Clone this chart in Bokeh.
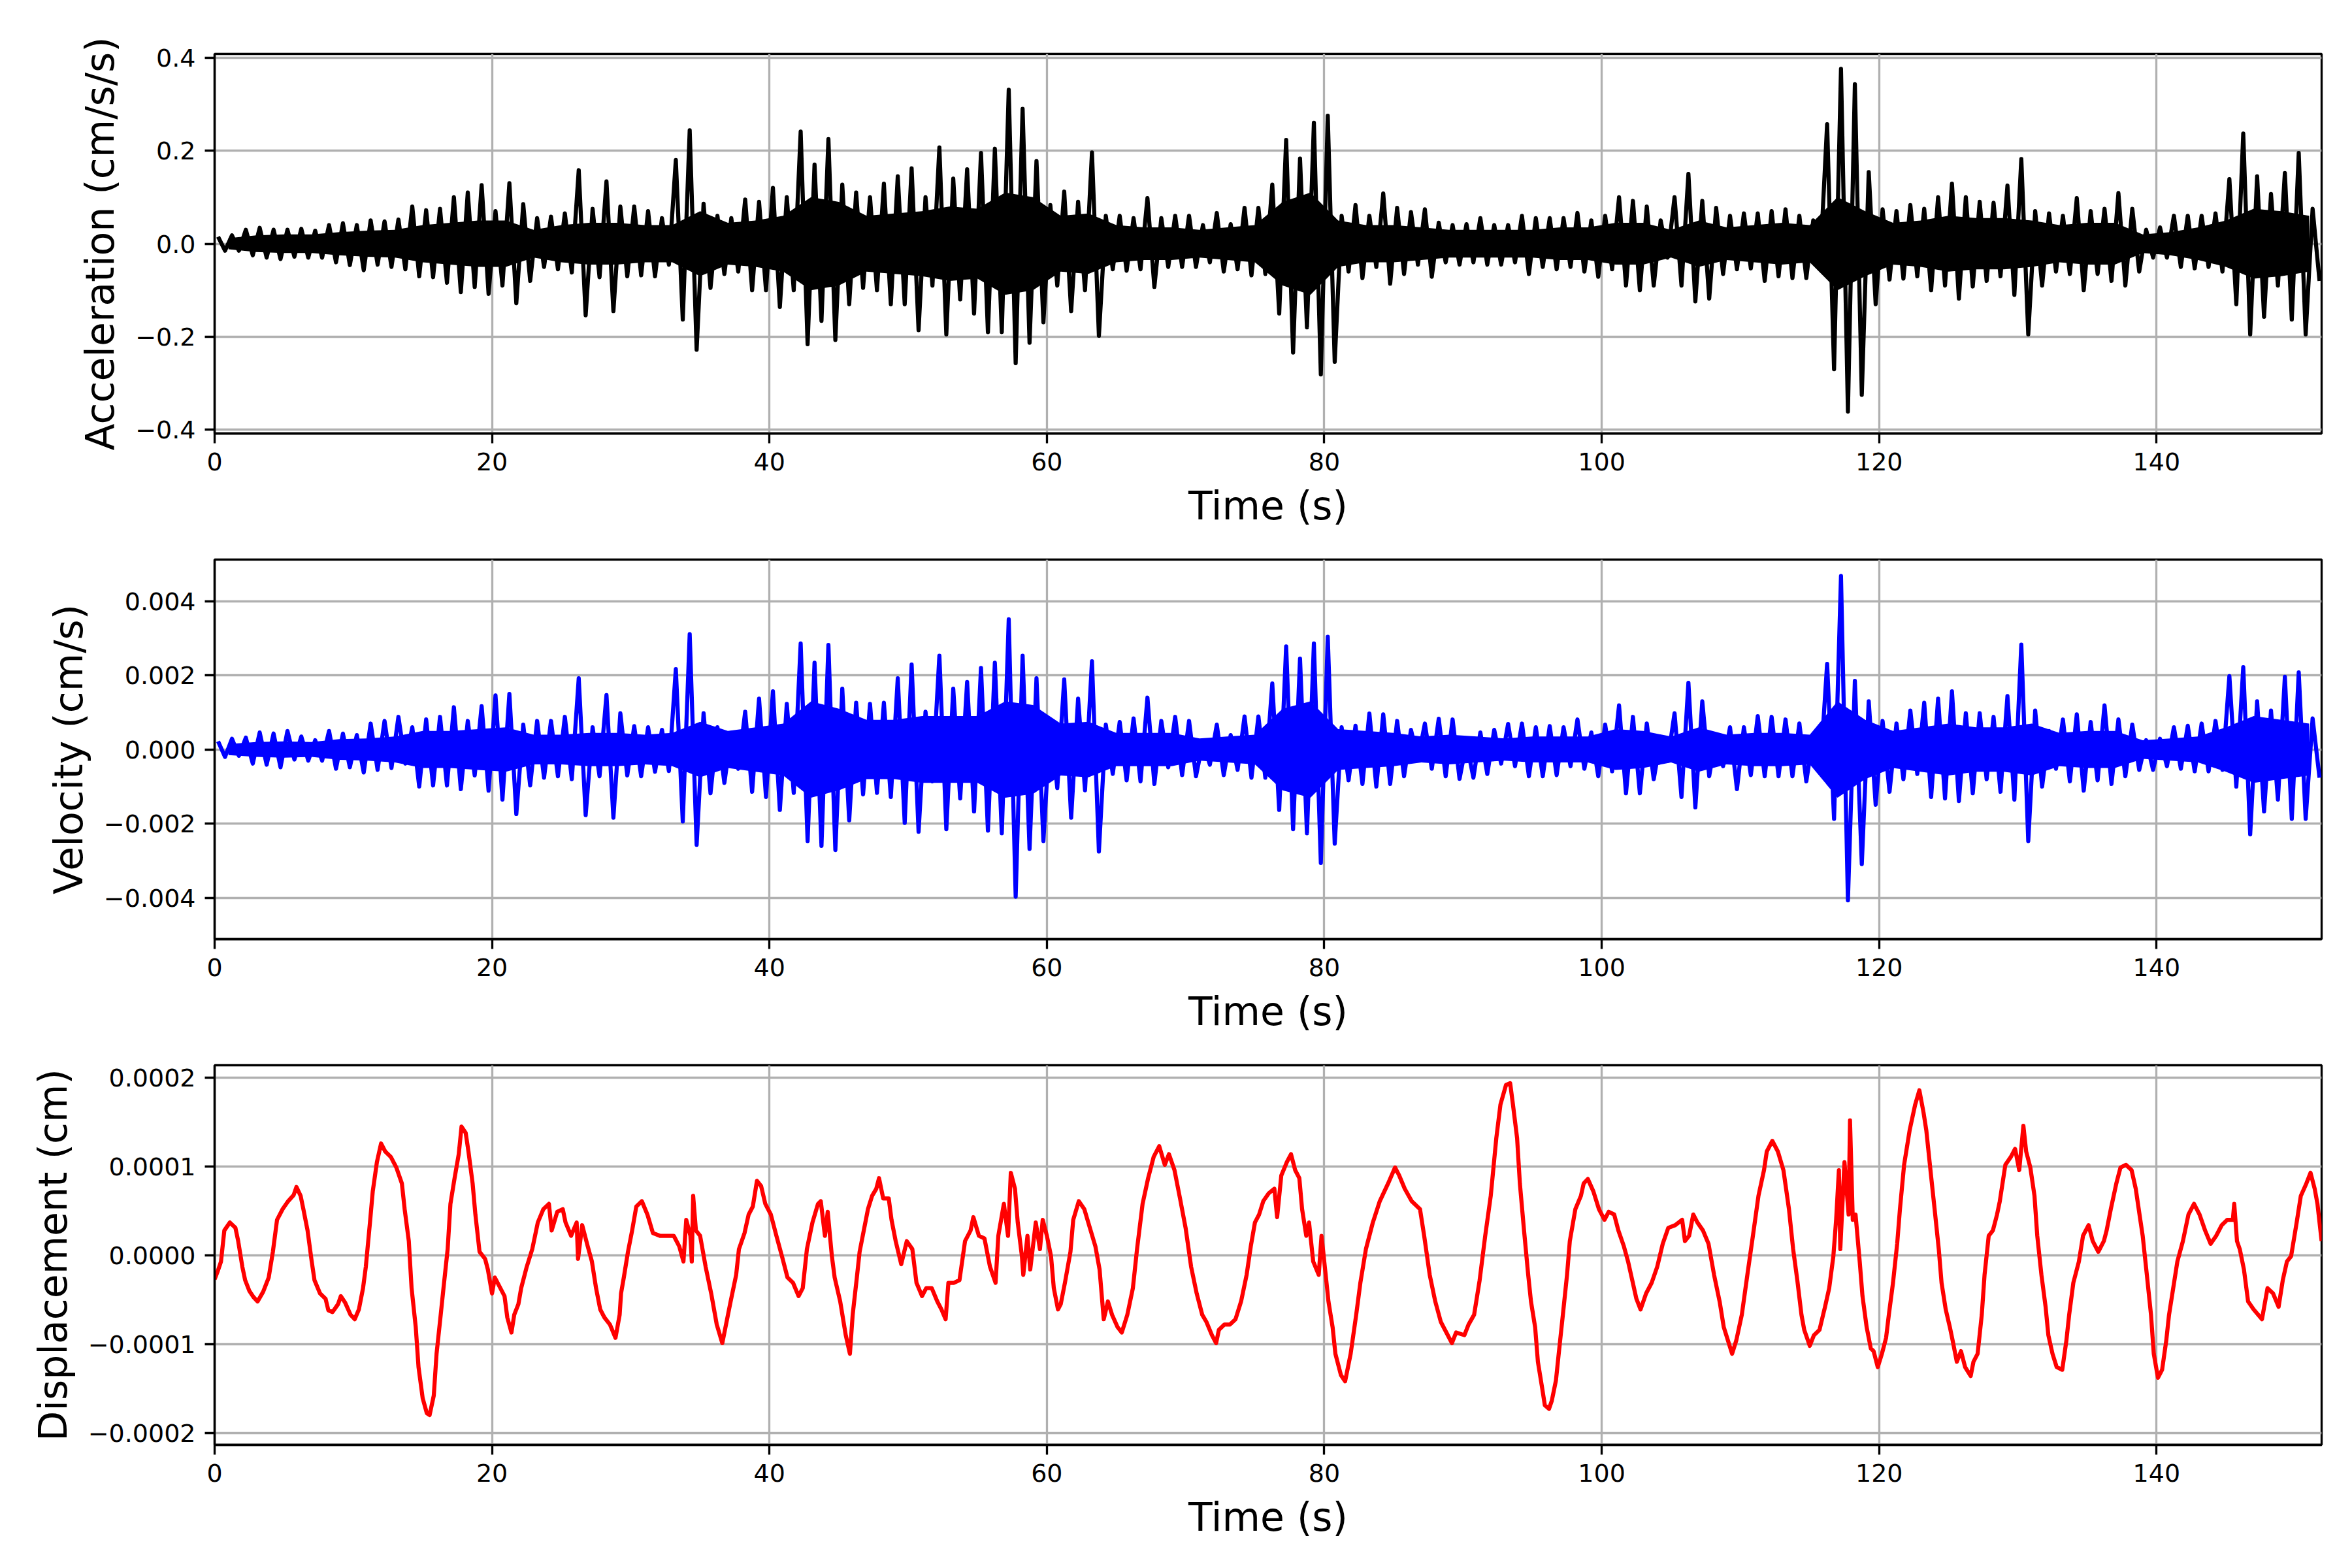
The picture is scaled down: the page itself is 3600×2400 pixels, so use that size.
import numpy as np
from bokeh.plotting import figure
from bokeh.layouts import column
from bokeh.models import Range1d
from bokeh.embed import file_html
from bokeh.resources import INLINE

# ---------------- data ----------------
duration = 151.9
x_ticks = [0, 20, 40, 60, 80, 100, 120, 140]

acc_ticks = [-0.4, -0.2, 0.0, 0.2, 0.4]
acc_tick_labels = ["\u22120.4", "\u22120.2", "0.0", "0.2", "0.4"]
vel_ticks = [-0.004, -0.002, 0.0, 0.002, 0.004]
vel_tick_labels = ["\u22120.004", "\u22120.002", "0.000", "0.002", "0.004"]
disp_ticks = [-0.0002, -0.0001, 0.0, 0.0001, 0.0002]
disp_tick_labels = ["\u22120.0002", "\u22120.0001", "0.0000", "0.0001", "0.0002"]

# acceleration (cm/s/s): per-second peak maxima / minima, second 0 .. 151
acc_hi = [0.015, 0.018, 0.030, 0.034, 0.030, 0.030, 0.032, 0.028, 0.040, 0.044,
          0.040, 0.050, 0.048, 0.052, 0.080, 0.072, 0.075, 0.100, 0.110, 0.126,
          0.070, 0.130, 0.085, 0.055, 0.058, 0.065, 0.158, 0.075, 0.134, 0.080,
          0.080, 0.070, 0.055, 0.180, 0.244, 0.086, 0.060, 0.055, 0.095, 0.090,
          0.120, 0.100, 0.241, 0.170, 0.225, 0.127, 0.110, 0.100, 0.129, 0.145,
          0.162, 0.100, 0.207, 0.140, 0.160, 0.195, 0.204, 0.331, 0.290, 0.178,
          0.083, 0.112, 0.090, 0.196, 0.060, 0.060, 0.055, 0.098, 0.055, 0.060,
          0.060, 0.040, 0.066, 0.042, 0.077, 0.077, 0.127, 0.223, 0.183, 0.260,
          0.275, 0.060, 0.083, 0.060, 0.108, 0.077, 0.068, 0.074, 0.045, 0.040,
          0.042, 0.055, 0.040, 0.040, 0.060, 0.055, 0.055, 0.055, 0.066, 0.050,
          0.060, 0.100, 0.092, 0.080, 0.050, 0.100, 0.150, 0.092, 0.077, 0.060,
          0.065, 0.065, 0.070, 0.074, 0.060, 0.050, 0.257, 0.376, 0.343, 0.154,
          0.074, 0.070, 0.083, 0.075, 0.100, 0.129, 0.100, 0.090, 0.088, 0.125,
          0.182, 0.070, 0.065, 0.060, 0.098, 0.070, 0.075, 0.109, 0.075, 0.030,
          0.035, 0.060, 0.060, 0.060, 0.065, 0.139, 0.237, 0.145, 0.107, 0.152,
          0.195, 0.075]
acc_lo = [-0.015, -0.015, -0.025, -0.030, -0.033, -0.028, -0.030, -0.030, -0.040, -0.046,
          -0.057, -0.045, -0.050, -0.055, -0.070, -0.072, -0.084, -0.104, -0.093, -0.108,
          -0.090, -0.128, -0.080, -0.050, -0.055, -0.062, -0.154, -0.072, -0.145, -0.070,
          -0.068, -0.070, -0.045, -0.163, -0.228, -0.095, -0.065, -0.060, -0.100, -0.100,
          -0.136, -0.100, -0.216, -0.166, -0.207, -0.130, -0.095, -0.100, -0.130, -0.130,
          -0.186, -0.090, -0.195, -0.120, -0.150, -0.190, -0.190, -0.257, -0.213, -0.169,
          -0.090, -0.145, -0.100, -0.198, -0.055, -0.058, -0.055, -0.093, -0.050, -0.050,
          -0.050, -0.040, -0.060, -0.055, -0.068, -0.065, -0.150, -0.234, -0.180, -0.281,
          -0.254, -0.060, -0.074, -0.050, -0.086, -0.065, -0.045, -0.071, -0.040, -0.045,
          -0.040, -0.045, -0.045, -0.040, -0.065, -0.050, -0.055, -0.050, -0.060, -0.071,
          -0.055, -0.090, -0.100, -0.090, -0.030, -0.090, -0.124, -0.118, -0.065, -0.055,
          -0.053, -0.080, -0.070, -0.074, -0.074, -0.040, -0.270, -0.361, -0.325, -0.130,
          -0.077, -0.075, -0.070, -0.100, -0.090, -0.118, -0.092, -0.080, -0.070, -0.110,
          -0.195, -0.090, -0.060, -0.065, -0.100, -0.065, -0.080, -0.090, -0.060, -0.030,
          -0.030, -0.050, -0.053, -0.050, -0.060, -0.130, -0.195, -0.157, -0.090, -0.163,
          -0.195, -0.080]
# amplitude of the dense core of the trace, every 2 s (centres 1, 3, ..., 151)
acc_core = [0.012, 0.018, 0.020, 0.020, 0.025, 0.028, 0.030, 0.040, 0.045, 0.050,
            0.050, 0.030, 0.040, 0.045, 0.045, 0.040, 0.040, 0.070, 0.045, 0.050,
            0.060, 0.100, 0.090, 0.060, 0.065, 0.070, 0.080, 0.075, 0.110, 0.100,
            0.060, 0.065, 0.040, 0.035, 0.035, 0.030, 0.035, 0.040, 0.090, 0.110,
            0.050, 0.040, 0.040, 0.035, 0.030, 0.030, 0.030, 0.030, 0.035, 0.035,
            0.045, 0.045, 0.030, 0.050, 0.035, 0.040, 0.045, 0.040, 0.100, 0.070,
            0.045, 0.050, 0.060, 0.055, 0.055, 0.050, 0.040, 0.045, 0.045, 0.020,
            0.025, 0.035, 0.050, 0.075, 0.070, 0.060]

# velocity (units of 1e-3 cm/s): per-second maxima / minima
vel_hi = [0.22, 0.29, 0.32, 0.46, 0.43, 0.50, 0.35, 0.25, 0.50, 0.43,
          0.39, 0.70, 0.77, 0.88, 0.60, 0.81, 0.88, 1.14, 0.77, 1.17,
          1.46, 1.50, 0.67, 0.77, 0.77, 0.88, 1.92, 0.60, 1.47, 0.98,
          0.63, 0.60, 0.53, 2.17, 3.11, 0.98, 0.60, 0.45, 1.02, 1.37,
          1.57, 1.23, 2.86, 2.34, 2.82, 1.64, 1.26, 1.23, 1.26, 1.92,
          2.29, 1.02, 2.53, 1.64, 1.82, 2.20, 2.34, 3.51, 2.53, 1.92,
          0.77, 1.89, 1.37, 2.38, 0.67, 0.74, 0.84, 1.40, 0.77, 0.88,
          0.77, 0.22, 0.67, 0.39, 0.89, 0.89, 1.78, 2.78, 2.45, 2.86,
          3.04, 0.60, 0.64, 0.97, 0.95, 0.77, 0.53, 0.70, 0.83, 0.81,
          0.18, 0.46, 0.53, 0.69, 0.70, 0.60, 0.63, 0.60, 0.81, 0.46,
          0.67, 1.19, 0.88, 0.70, 0.29, 0.98, 1.80, 1.30, 0.39, 0.60,
          0.60, 0.90, 0.88, 0.81, 0.70, 0.39, 2.31, 4.68, 1.85, 1.30,
          0.77, 0.70, 1.05, 1.26, 1.37, 1.57, 0.98, 0.98, 0.88, 1.44,
          2.83, 1.05, 0.50, 0.81, 0.95, 0.74, 1.19, 0.81, 0.67, 0.25,
          0.29, 0.60, 0.64, 0.70, 0.77, 1.98, 2.22, 1.30, 1.05, 1.96,
          2.08, 0.84]
vel_lo = [-0.20, -0.17, -0.38, -0.41, -0.48, -0.27, -0.30, -0.30, -0.52, -0.48,
          -0.62, -0.55, -0.50, -0.38, -1.00, -0.97, -0.97, -1.07, -0.70, -1.11,
          -1.35, -1.74, -0.97, -0.76, -0.72, -0.80, -1.77, -0.72, -1.84, -0.70,
          -0.72, -0.60, -0.58, -1.94, -2.57, -1.18, -0.90, -0.52, -1.14, -1.28,
          -1.63, -1.17, -2.47, -2.60, -2.71, -1.91, -1.21, -1.17, -1.28, -1.98,
          -2.22, -0.86, -2.15, -1.32, -1.67, -2.19, -2.26, -3.97, -2.68, -2.47,
          -1.04, -1.84, -1.10, -2.75, -0.66, -0.83, -0.86, -0.93, -0.48, -0.69,
          -0.72, -0.41, -0.69, -0.55, -0.76, -0.76, -1.63, -2.15, -2.26, -3.06,
          -2.54, -0.83, -0.93, -1.00, -0.93, -0.72, -0.27, -0.52, -0.72, -0.79,
          -0.76, -0.66, -0.38, -0.45, -0.72, -0.72, -0.69, -0.45, -0.52, -0.72,
          -0.59, -1.18, -1.18, -0.80, -0.31, -1.28, -1.56, -0.72, -0.45, -1.07,
          -0.69, -0.72, -0.72, -0.72, -0.86, -0.59, -1.87, -4.07, -3.09, -1.49,
          -1.14, -0.80, -0.66, -1.28, -1.32, -1.39, -1.18, -0.80, -1.14, -1.35,
          -2.47, -1.00, -0.52, -0.86, -1.11, -0.83, -0.93, -0.72, -0.55, -0.55,
          -0.45, -0.52, -0.59, -0.59, -0.55, -1.00, -2.29, -1.67, -1.35, -1.87,
          -1.87, -0.76]
vel_core = [0.15, 0.20, 0.22, 0.20, 0.28, 0.30, 0.35, 0.50, 0.50, 0.55,
            0.60, 0.40, 0.40, 0.45, 0.45, 0.40, 0.45, 0.75, 0.50, 0.60,
            0.70, 1.30, 1.10, 0.80, 0.80, 0.90, 0.90, 0.90, 1.30, 1.20,
            0.70, 0.75, 0.45, 0.45, 0.45, 0.30, 0.35, 0.40, 1.10, 1.30,
            0.55, 0.50, 0.45, 0.35, 0.40, 0.35, 0.30, 0.35, 0.35, 0.35,
            0.55, 0.50, 0.35, 0.60, 0.40, 0.45, 0.45, 0.40, 1.30, 0.80,
            0.50, 0.60, 0.70, 0.60, 0.60, 0.70, 0.45, 0.50, 0.50, 0.25,
            0.30, 0.35, 0.60, 0.90, 0.80, 0.70]

# displacement (units of 1e-4 cm)
disp_t = [0, 0.2, 0.46, 0.7, 1.1, 1.5, 1.7, 2.0, 2.2, 2.5, 2.8, 3.1, 3.5, 3.9, 4.2, 4.5, 4.9,
          5.3, 5.7, 5.9, 6.2, 6.4, 6.7, 7.0, 7.2, 7.6, 8.0, 8.2, 8.5, 8.9, 9.1, 9.4, 9.8,
          10.1, 10.4, 10.7, 10.9, 11.2, 11.4, 11.7, 12.0, 12.3, 12.7, 13.1, 13.5, 13.7,
          14.0, 14.2, 14.5, 14.7, 15.0, 15.3, 15.5, 15.8, 16.0, 16.3, 16.5, 16.8, 17.0,
          17.3, 17.6, 17.8, 18.1, 18.3, 18.6, 18.8, 19.1, 19.5, 19.7, 20.0, 20.2, 20.6,
          20.9, 21.1, 21.4, 21.6, 21.9, 22.1, 22.5, 22.9, 23.3, 23.7, 24.1, 24.3, 24.7,
          25.1, 25.3, 25.7, 26.1, 26.2, 26.5, 26.9, 27.2, 27.5, 27.8, 28.1, 28.5, 28.9,
          29.2, 29.3, 29.5, 29.8, 30.1, 30.4, 30.8, 31.2, 31.6, 32.1, 32.6, 33.1, 33.5,
          33.8, 34.0, 34.3, 34.4, 34.5, 34.7, 35.0, 35.4, 35.8, 36.2, 36.6, 37.2, 37.6,
          37.8, 38.2, 38.5, 38.8, 39.1, 39.4, 39.7, 40.1, 40.5, 40.9, 41.3, 41.7, 42.1,
          42.4, 42.7, 43.1, 43.5, 43.7, 44.0, 44.2, 44.5, 44.7, 45.1, 45.5, 45.8, 46.0,
          46.3, 46.5, 46.8, 47.1, 47.4, 47.7, 47.9, 48.2, 48.6, 48.8, 49.1, 49.5, 49.9,
          50.3, 50.6, 51.0, 51.3, 51.7, 52.1, 52.4, 52.7, 52.9, 53.3, 53.7, 54.1, 54.5,
          54.7, 55.1, 55.5, 55.9, 56.3, 56.5, 56.9, 57.2, 57.4, 57.7, 57.9, 58.2, 58.3,
          58.6, 58.8, 59.2, 59.5, 59.7, 60.0, 60.3, 60.5, 60.8, 61.0, 61.3, 61.7, 61.9,
          62.3, 62.7, 63.1, 63.5, 63.8, 64.1, 64.4, 64.7, 65.1, 65.4, 65.8, 66.2, 66.5,
          66.9, 67.3, 67.7, 68.1, 68.5, 68.8, 69.2, 69.6, 70.0, 70.4, 70.8, 71.2, 71.5,
          71.9, 72.2, 72.4, 72.8, 73.2, 73.6, 74.0, 74.4, 74.7, 75.0, 75.3, 75.6, 76.0,
          76.4, 76.6, 76.9, 77.3, 77.6, 77.9, 78.2, 78.4, 78.7, 78.9, 79.2, 79.6, 79.8,
          80.1, 80.3, 80.6, 80.8, 81.2, 81.5, 81.9, 82.3, 82.6, 83.0, 83.5, 84.0, 84.6,
          85.1, 85.4, 85.8, 86.3, 86.9, 87.2, 87.6, 88.0, 88.4, 88.8, 89.2, 89.5, 90.1,
          90.4, 90.8, 91.2, 91.6, 92.0, 92.4, 92.7, 93.1, 93.4, 93.6, 93.9, 94.1, 94.4,
          94.7, 94.9, 95.2, 95.4, 95.7, 95.9, 96.2, 96.4, 96.7, 96.9, 97.2, 97.5, 97.7,
          98.1, 98.5, 98.7, 99.0, 99.4, 99.8, 100.2, 100.5, 100.9, 101.2, 101.6, 101.9,
          102.2, 102.5, 102.8, 103.2, 103.6, 104.0, 104.4, 104.8, 105.3, 105.8, 106.0,
          106.3, 106.6, 106.9, 107.3, 107.7, 108.1, 108.5, 108.8, 109.1, 109.4, 109.7,
          110.1, 110.5, 110.9, 111.3, 111.7, 111.9, 112.3, 112.7, 113.1, 113.5, 113.8,
          114.1, 114.4, 114.6, 115.0, 115.3, 115.7, 116.1, 116.4, 116.7, 116.9, 117.1,
          117.2, 117.5, 117.8, 117.9, 118.1, 118.3, 118.6, 118.8, 119.1, 119.4, 119.6,
          119.9, 120.2, 120.5, 120.7, 121.0, 121.3, 121.5, 121.8, 122.2, 122.6, 122.9,
          123.2, 123.4, 123.7, 124.0, 124.3, 124.5, 124.8, 125.1, 125.3, 125.6, 125.9,
          126.2, 126.6, 126.8, 127.1, 127.4, 127.6, 127.9, 128.2, 128.5, 128.7, 129.1,
          129.5, 129.8, 130.1, 130.4, 130.6, 130.9, 131.2, 131.4, 131.7, 132.0, 132.2,
          132.5, 132.8, 133.2, 133.5, 133.7, 134.0, 134.4, 134.7, 135.1, 135.4, 135.8,
          136.2, 136.4, 136.7, 137.1, 137.4, 137.8, 138.2, 138.5, 138.8, 139.0, 139.3,
          139.6, 139.8, 140.1, 140.4, 140.7, 140.9, 141.2, 141.5, 141.9, 142.3, 142.7,
          143.1, 143.5, 143.9, 144.3, 144.7, 145.1, 145.5, 145.6, 145.8, 146.0, 146.3,
          146.6, 147.0, 147.6, 148.0, 148.4, 148.8, 149.1, 149.4, 149.7, 150.1, 150.4,
          150.8, 151.1, 151.4, 151.6, 151.9]
disp_v = [-0.27, -0.19, -0.07, 0.28, 0.37, 0.31, 0.16, -0.13, -0.28, -0.40, -0.47, -0.52, -0.41, -0.25, 0.04, 0.40, 0.52,
          0.61, 0.68, 0.77, 0.67, 0.52, 0.28, -0.07, -0.28, -0.43, -0.49, -0.62, -0.64, -0.55, -0.46, -0.53, -0.67,
          -0.72, -0.61, -0.37, -0.13, 0.37, 0.72, 1.05, 1.26, 1.17, 1.11, 0.99, 0.81, 0.52,
          0.16, -0.37, -0.81, -1.26, -1.61, -1.78, -1.80, -1.58, -1.11, -0.67, -0.37, 0.07, 0.58,
          0.87, 1.14, 1.45, 1.38, 1.17, 0.81, 0.46, 0.04, -0.04, -0.16, -0.43, -0.25, -0.37,
          -0.46, -0.70, -0.87, -0.67, -0.55, -0.37, -0.13, 0.07, 0.37, 0.52, 0.58, 0.28, 0.49,
          0.52, 0.37, 0.22, 0.37, -0.04, 0.34, 0.10, -0.07, -0.37, -0.61, -0.70, -0.78, -0.93,
          -0.67, -0.43, -0.25, 0.04, 0.28, 0.55, 0.61, 0.46, 0.25, 0.22, 0.22, 0.22, 0.10,
          -0.07, 0.40, 0.22, -0.07, 0.67, 0.28, 0.22, -0.13, -0.43, -0.78, -0.99, -0.52, -0.22,
          0.07, 0.25, 0.46, 0.55, 0.84, 0.78, 0.58, 0.46, 0.22, -0.01, -0.25, -0.31, -0.46,
          -0.37, 0.07, 0.37, 0.58, 0.61, 0.22, 0.49, -0.01, -0.25, -0.52, -0.90, -1.11, -0.67,
          -0.25, 0.04, 0.28, 0.52, 0.67, 0.75, 0.87, 0.64, 0.64, 0.40, 0.16, -0.10, 0.16,
          0.07, -0.31, -0.46, -0.37, -0.37, -0.52, -0.61, -0.72, -0.31, -0.31, -0.28, 0.16, 0.28,
          0.43, 0.22, 0.19, -0.13, -0.31, 0.22, 0.58, 0.22, 0.93, 0.75, 0.37, -0.01, -0.22,
          0.22, -0.16, 0.37, 0.07, 0.40, 0.22, -0.01, -0.37, -0.61, -0.55, -0.31, 0.04, 0.40,
          0.61, 0.52, 0.31, 0.10, -0.16, -0.72, -0.52, -0.67, -0.81, -0.87, -0.67, -0.37, 0.07,
          0.58, 0.87, 1.11, 1.23, 1.02, 1.14, 0.96, 0.64, 0.31, -0.13, -0.43, -0.67, -0.75,
          -0.90, -0.99, -0.84, -0.78, -0.78, -0.72, -0.52, -0.22, 0.10, 0.37, 0.46, 0.61, 0.70,
          0.75, 0.43, 0.90, 1.05, 1.14, 0.96, 0.87, 0.52, 0.22, 0.37, -0.07, -0.22, 0.22,
          -0.22, -0.52, -0.81, -1.11, -1.35, -1.42, -1.11, -0.67, -0.31, 0.07, 0.37, 0.61, 0.81,
          0.99, 0.90, 0.75, 0.61, 0.52, 0.22, -0.22, -0.52, -0.75, -0.87, -0.99, -0.87, -0.90,
          -0.78, -0.67, -0.28, 0.22, 0.67, 1.32, 1.70, 1.92, 1.94, 1.70, 1.32, 0.81, 0.28,
          -0.22, -0.52, -0.81, -1.20, -1.49, -1.69, -1.73, -1.64, -1.41, -1.11, -0.67, -0.22, 0.16,
          0.52, 0.67, 0.81, 0.86, 0.72, 0.52, 0.40, 0.49, 0.46, 0.28, 0.10, -0.07,
          -0.28, -0.49, -0.61, -0.43, -0.31, -0.13, 0.13, 0.31, 0.34, 0.40, 0.16,
          0.22, 0.46, 0.37, 0.28, 0.13, -0.22, -0.52, -0.81, -0.96, -1.11, -0.96,
          -0.67, -0.22, 0.22, 0.67, 0.96, 1.17, 1.29, 1.17, 0.96, 0.52, 0.07,
          -0.28, -0.67, -0.84, -1.02, -0.90, -0.84, -0.58, -0.37, -0.01, 0.40, 0.96,
          0.07, 1.05, 0.46, 1.52, 0.40, 0.46, -0.07, -0.46, -0.81, -1.05, -1.08,
          -1.26, -1.11, -0.93, -0.67, -0.31, 0.13, 0.52, 1.02, 1.41, 1.70, 1.86,
          1.61, 1.41, 0.96, 0.52, 0.07, -0.31, -0.61, -0.81, -0.96, -1.20, -1.08,
          -1.26, -1.36, -1.20, -1.11, -0.67, -0.22, 0.22, 0.28, 0.46, 0.61, 1.02,
          1.11, 1.20, 0.96, 1.46, 1.17, 0.99, 0.67, 0.22, -0.22, -0.58, -0.90,
          -1.11, -1.26, -1.29, -0.96, -0.67, -0.31, -0.07, 0.22, 0.34, 0.16, 0.04,
          0.16, 0.28, 0.52, 0.81, 0.99, 1.02, 0.96, 0.75, 0.43, 0.22, -0.22,
          -0.67, -1.11, -1.38, -1.29, -0.96, -0.67, -0.37, -0.07, 0.16, 0.46, 0.58,
          0.46, 0.28, 0.13, 0.22, 0.34, 0.40, 0.40, 0.58, 0.16, 0.07, -0.16,
          -0.52, -0.61, -0.72, -0.37, -0.43, -0.58, -0.28, -0.07, -0.01, 0.37, 0.67,
          0.81, 0.93, 0.75, 0.58, 0.16]

# ---------------- styling helpers ----------------
FONT = "DejaVu Sans"
LW = 6.25        # 1.5 pt at 300 dpi
THIN = 3.3       # 0.8 pt at 300 dpi
GRID = "#b0b0b0"


def make_fig(height, top, bottom, y_lo, y_hi, yticks, ylabels, ylabel):
    p = figure(width=3584, height=height,
               x_range=Range1d(0, duration), y_range=Range1d(y_lo, y_hi),
               output_backend="svg", toolbar_location=None,
               min_border_left=328, min_border_right=31,
               min_border_top=top, min_border_bottom=bottom,
               background_fill_color="white", border_fill_color="white")
    p.outline_line_color = "black"
    p.outline_line_width = THIN
    p.xaxis.ticker = x_ticks
    p.yaxis.ticker = yticks
    p.yaxis.major_label_overrides = {v: s for v, s in zip(yticks, ylabels)}
    p.xaxis.axis_label = "Time (s)"
    p.yaxis.axis_label = ylabel
    for ax in (p.xaxis[0], p.yaxis[0]):
        ax.axis_line_color = "black"
        ax.axis_line_width = THIN
        ax.major_tick_line_color = "black"
        ax.major_tick_line_width = THIN
        ax.major_tick_out = 15
        ax.major_tick_in = 0
        ax.minor_tick_line_color = None
        ax.major_label_text_font = FONT
        ax.major_label_text_font_size = "38px"
        ax.major_label_text_color = "black"
        ax.major_label_standoff = 14
        ax.axis_label_text_font = FONT
        ax.axis_label_text_font_size = "60px"
        ax.axis_label_text_font_style = "normal"
        ax.axis_label_text_color = "black"
        ax.axis_label_standoff = 16
    for g in (p.xgrid[0], p.ygrid[0]):
        g.grid_line_color = GRID
        g.grid_line_width = THIN
    return p


def add_trace(p, hi, lo, core, scale, color):
    hi = np.asarray(hi) * scale
    lo = np.asarray(lo) * scale
    core = np.asarray(core) * scale
    bins = np.arange(len(hi))
    core_t = np.arange(len(core)) * 2 + 1
    p.varea(x=core_t, y1=-core, y2=core, fill_color=color)
    xs = np.column_stack([bins + 0.25, bins + 0.75]).ravel()
    ys = np.column_stack([hi, lo]).ravel()
    p.line(xs, ys, line_color=color, line_width=LW, line_join="round")


p1 = make_fig(813, 82, 150, -0.408, 0.408, acc_ticks, acc_tick_labels,
              "Acceleration (cm/s/s)")
add_trace(p1, acc_hi, acc_lo, acc_core, 1.0, "black")

p2 = make_fig(774, 43, 150, -0.005115, 0.005122, vel_ticks, vel_tick_labels,
              "Velocity (cm/s)")
add_trace(p2, vel_hi, vel_lo, vel_core, 1e-3, "blue")

p3 = make_fig(774, 43, 150, -0.0002136, 0.0002142, disp_ticks, disp_tick_labels,
              "Displacement (cm)")
p3.line(np.asarray(disp_t), np.asarray(disp_v) * 1e-4, line_color="red",
        line_width=LW, line_join="round")

layout = column(p1, p2, p3, spacing=0)
open("out.html", "w").write(file_html(layout, INLINE))
